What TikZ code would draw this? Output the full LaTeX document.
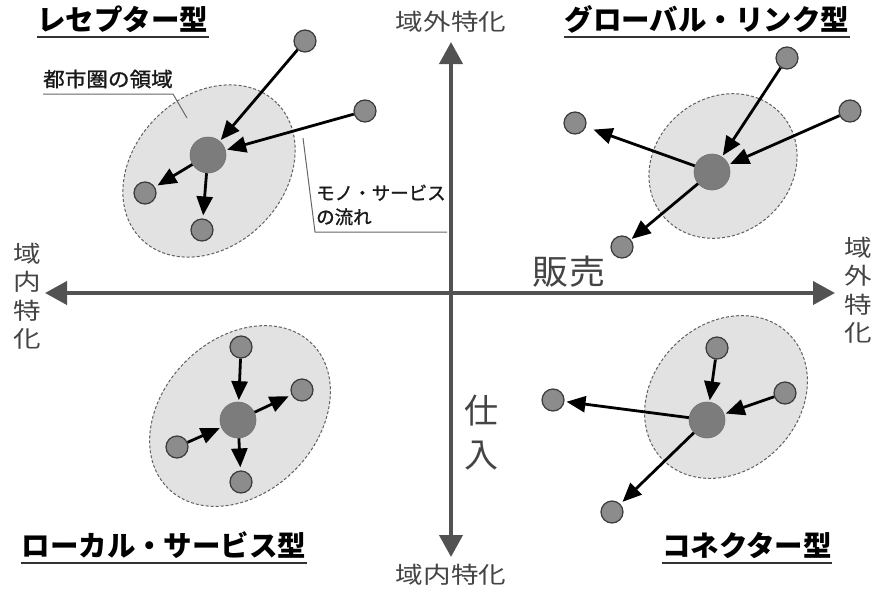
\documentclass[tikz,border=0pt]{standalone}
\usepackage{fontspec}
\usepackage{graphicx}
\setmainfont{Noto Sans CJK JP}
\newfontfamily\jpmed[FakeBold=1.2]{Noto Sans CJK JP}
\usetikzlibrary{arrows.meta}
\definecolor{axisgray}{HTML}{525252}
\definecolor{labgray}{HTML}{444444}
\definecolor{regionfill}{HTML}{E2E2E2}
\definecolor{regionline}{HTML}{606060}
\definecolor{leaffill}{HTML}{8C8C8C}
\definecolor{leafline}{HTML}{3A3A3A}
\definecolor{hubfill}{HTML}{7C7C7C}
\newcommand{\hsq}[1]{\scalebox{1.2}[1]{#1}}
\tikzset{
  axisline/.style={line width=4pt, draw=axisgray,
    {Triangle[length=22pt,width=23pt]}-{Triangle[length=22pt,width=23pt]}},
  region/.style={fill=regionfill, draw=regionline, dashed, line width=1pt,
    dash pattern=on 3pt off 2pt},
  leaf/.style={circle, minimum size=22pt, inner sep=0pt, fill=leaffill,
    draw=leafline, line width=1.2pt},
  hub/.style={circle, minimum size=36pt, inner sep=0pt, fill=hubfill,
    draw=hubfill!90!black, line width=0.6pt},
  flow/.style={line width=2.8pt, black, shorten >=1.5pt,
    -{Triangle[length=19pt,width=16pt]}},
  titletext/.style={font=\fontsize{28.5}{30}\selectfont\bfseries, inner sep=0pt,
    anchor=base, text=black},
  uline/.style={line width=1.6pt, draw=black!80},
  axlabel/.style={font=\fontsize{23}{28.5}\selectfont, text=labgray,
    inner sep=0pt, align=center},
  biglabel/.style={font=\fontsize{34}{44}\selectfont, text=labgray,
    inner sep=0pt, align=center},
  calltext/.style={text=black!90, inner sep=0pt},
  callline/.style={line width=1pt, draw=black!60},
}
\begin{document}
\begin{tikzpicture}[x=1pt,y=-1pt]
\useasboundingbox (0,0) rectangle (873,597);

% axes
\coordinate (vt) at (451,42);
\coordinate (vb) at (451,557);
\coordinate (hl) at (45,293);
\coordinate (hr) at (835,293);
\draw[axisline] (vb) -- (vt);
\draw[axisline] (hl) -- (hr);

% axis labels
\node[axlabel] (ltop) at (451,22) {\hsq{域外特化}};
\node[axlabel] (lbot) at (451,575) {\hsq{域内特化}};
\node[axlabel] (lleft) at (27,296) {\hsq{域}\\\hsq{内}\\\hsq{特}\\\hsq{化}};
\node[axlabel] (lright) at (858,290) {\hsq{域}\\\hsq{外}\\\hsq{特}\\\hsq{化}};
\node[biglabel] (sell) at (569,272) {\scalebox{1.06}[1]{販売}};
\node[biglabel] (buy) at (481,433) {仕\\入};

% regions
\draw[region, rotate around={45:(209,171)}] (209,171) ellipse [x radius=96pt, y radius=75pt];
\draw[region, rotate around={40:(723,166)}] (723,166) ellipse [x radius=78pt, y radius=68pt];
\draw[region, rotate around={45:(240,416)}] (240,416) ellipse [x radius=102pt, y radius=77pt];
\draw[region, rotate around={45:(726,397)}] (726,397) ellipse [x radius=89pt, y radius=73pt];

% titles
\node[titletext] (t1) at (123,30) {レセプター型};
\node[titletext] (t2) at (707,30) {グローバル・リンク型};
\node[titletext] (t3) at (164,556) {ローカル・サービス型};
\node[titletext] (t4) at (747,556) {コネクター型};
\foreach \t in {t1,t2,t3,t4}{
  \draw[uline] ([yshift=-7pt]\t.base west) -- ([yshift=-7pt]\t.base east);
}

% callouts
\node[calltext, font=\fontsize{20}{22}\selectfont\jpmed] (area) at (108,79) {\scalebox{1.08}[1]{都市圏の領域}};
\coordinate (a1) at (43,94);
\coordinate (a2) at (173,94);
\coordinate (a3) at (187,118);
\draw[callline] (a1) -- (a2) -- (a3);

\node[calltext, font=\fontsize{18.5}{24}\selectfont\jpmed, align=left, anchor=west] (mono) at (316,205) {モノ・サービス\\の流れ};
\coordinate (m1) at (303,138);
\coordinate (m2) at (315,232);
\coordinate (m3) at (447,232);
\draw[callline] (m1) -- (m2) -- (m3);

% receptor
\node[hub] (r0) at (208,155) {};
\node[leaf] (r1) at (305,41) {};
\node[leaf] (r2) at (365,111) {};
\node[leaf] (r3) at (145,193) {};
\node[leaf] (r4) at (202,230) {};
\draw[flow] (r1) -- (r0);
\draw[flow] (r2) -- (r0);
\draw[flow, shorten >=3pt] (r0) -- (r3);
\draw[flow, shorten >=3pt] (r0) -- (r4);

% global link
\node[hub] (g0) at (712,172) {};
\node[leaf] (g1) at (787,58) {};
\node[leaf] (g2) at (850,111) {};
\node[leaf] (g3) at (575,123) {};
\node[leaf] (g4) at (622,247) {};
\draw[flow] (g1) -- (g0);
\draw[flow] (g2) -- (g0);
\draw[flow, shorten >=8pt] (g0) -- (g3);
\draw[flow, shorten >=1pt] (g0) -- (g4);

% local service
\node[hub] (l0) at (238,420) {};
\node[leaf] (l1) at (241,347) {};
\node[leaf] (l2) at (302,390) {};
\node[leaf] (l3) at (177,447) {};
\node[leaf] (l4) at (241,482) {};
\draw[flow] (l1) -- (l0);
\draw[flow, shorten >=3pt] (l0) -- (l2);
\draw[flow] (l3) -- (l0);
\draw[flow, shorten >=3pt] (l0) -- (l4);

% connector
\node[hub] (c0) at (707,420) {};
\node[leaf] (c1) at (717,348) {};
\node[leaf] (c2) at (785,393) {};
\node[leaf] (c3) at (553,400) {};
\node[leaf] (c4) at (612,512) {};
\draw[flow] (c1) -- (c0);
\draw[flow] (c2) -- (c0);
\draw[flow, shorten >=2pt] (c0) -- (c3);
\draw[flow, shorten >=3pt] (c0) -- (c4);
\end{tikzpicture}
\end{document}
